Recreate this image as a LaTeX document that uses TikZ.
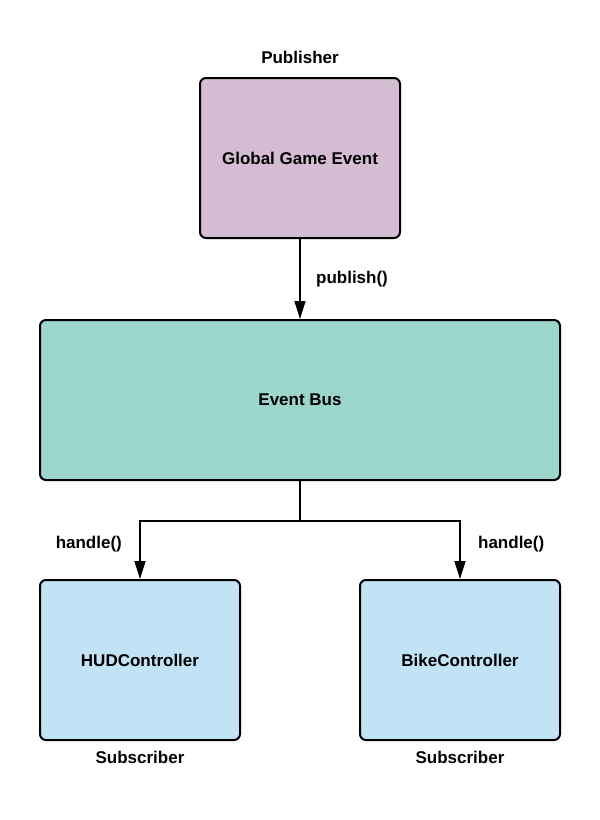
\documentclass[tikz,border=0pt]{standalone}
\usepackage{fontspec}
\setmainfont{Liberation Sans}
\usepackage{xcolor}
\usepackage{tikz}
\usetikzlibrary{arrows.meta,positioning}

\definecolor{pubfill}{HTML}{D4BCD2}
\definecolor{busfill}{HTML}{9BD5CB}
\definecolor{subfill}{HTML}{C2E3F5}

\begin{document}
\begin{tikzpicture}[x=1pt, y=-1pt, font=\bfseries\fontsize{17}{20}\selectfont, >={Triangle[length=18pt, width=11pt]},
  box/.style={draw, line width=2pt, rounded corners=6pt, align=center, minimum width=200pt, minimum height=160pt, inner sep=0pt},
  role/.style={inner sep=0pt},
  line/.style={->, line width=1.6pt}]
\useasboundingbox (0,0) rectangle (600,820);
\node[box, fill=busfill, minimum width=520pt] (bus) at (300,400) {Event Bus};
\node[box, fill=pubfill, above=80pt of bus] (event) {Global Game Event};
\node[box, fill=subfill, below right=98pt and 0pt of bus.south west] (hud) {HUDController};
\node[box, fill=subfill, below left=98pt and 0pt of bus.south east] (bike) {BikeController};
\node[role, above=13pt of event] (publisher) {Publisher};
\node[role, below=10pt of hud] (hudsub) {Subscriber};
\node[role, below=10pt of bike] (bikesub) {Subscriber};
\coordinate[below=40pt of bus.south] (fork);
\draw[line] (event) -- node[right=12pt] {publish()} (bus);
\draw[line width=1.6pt] (bus.south) -- (fork);
\draw[line] (fork) -| node[pos=0.7, left=14pt] {handle()} (hud.north);
\draw[line] (fork) -| node[pos=0.7, right=14pt] {handle()} (bike.north);
\end{tikzpicture}
\end{document}
